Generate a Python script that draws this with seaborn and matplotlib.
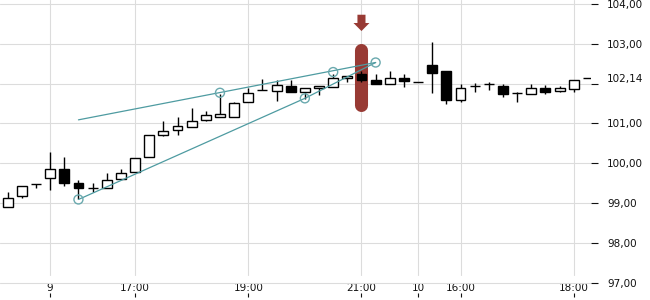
import numpy as np
import pandas as pd
import matplotlib
matplotlib.use("Agg")
import matplotlib.pyplot as plt
from matplotlib.patches import FancyArrowPatch
from matplotlib.transforms import blended_transform_factory
import seaborn as sns

# ---- data (15-minute candles) ----
opens = [98.89, 99.17, 99.47, 99.62, 99.85, 99.51, 99.38, 99.37, 99.60, 99.77,
         100.16, 100.71, 100.83, 100.91, 101.09, 101.17, 101.17, 101.55, 101.83, 101.82,
         101.95, 101.79, 101.90, 101.92, 102.14, 102.23, 102.10, 102.00, 102.15, 102.03,
         102.46, 102.31, 101.59, 101.93, 101.98, 101.93, 101.77, 101.74, 101.89, 101.82,
         101.87, 102.14]
highs = [99.27, 99.42, 99.47, 100.29, 100.16, 99.57, 99.50, 99.75, 99.86, 100.14,
         100.71, 101.05, 101.15, 101.40, 101.30, 101.74, 101.55, 101.89, 102.12, 102.10,
         102.08, 101.90, 101.95, 102.23, 102.20, 102.31, 102.25, 102.31, 102.23, 102.03,
         103.04, 102.31, 101.98, 102.01, 102.04, 101.98, 101.78, 102.00, 101.97, 101.93,
         102.10, 102.14]
lows = [98.89, 99.13, 99.38, 99.34, 99.44, 99.10, 99.27, 99.37, 99.60, 99.77,
        100.16, 100.68, 100.71, 100.91, 101.06, 101.17, 101.17, 101.55, 101.83, 101.57,
        101.80, 101.62, 101.72, 101.92, 102.04, 102.03, 102.00, 102.00, 101.92, 102.03,
        101.77, 101.49, 101.54, 101.80, 101.83, 101.66, 101.54, 101.74, 101.74, 101.79,
        101.78, 102.14]
closes = [99.13, 99.42, 99.47, 99.85, 99.51, 99.39, 99.38, 99.58, 99.76, 100.14,
          100.71, 100.81, 100.94, 101.07, 101.20, 101.23, 101.52, 101.77, 101.83, 101.97,
          101.80, 101.90, 101.95, 102.15, 102.20, 102.10, 102.00, 102.15, 102.07, 102.03,
          102.27, 101.59, 101.89, 101.93, 101.98, 101.74, 101.77, 101.89, 101.80, 101.88,
          102.10, 102.14]

xtick_pos = [3, 9, 17, 25, 29, 32, 40]
xtick_labels = ["9", "17:00", "19:00", "21:00", "10", "16:00", "18:00"]
ytick_vals = [97, 98, 99, 100, 101, 102, 103, 104]
last_price = 102.14

# wedge drawing
upper_x = [5, 26]
upper_y = [101.09, 102.53]
lower_x = [5, 21, 26]
lower_y = [99.09, 101.63, 102.53]
anchor_x = [5, 15, 21, 23, 26]
anchor_y = [99.09, 101.77, 101.63, 102.29, 102.53]

# signal marker
signal_idx = 25
signal_range = [101.31, 103.02]
arrow_range = [103.73, 103.32]

# ---- style ----
sns.set_theme(style="white")
plt.rcParams["font.family"] = ["DejaVu Sans"]

W, H = 650, 300
fig = plt.figure(figsize=(6.5, 3.0), dpi=100)
ax_left, ax_right, ax_bottom, ax_top = 0, 591, 7, 300
ax = fig.add_axes([ax_left / W, ax_bottom / H, (ax_right - ax_left) / W, (ax_top - ax_bottom) / H])

x_lo, x_hi = -0.544, 41.22
y_lo, y_hi = 96.741, 104.10
ax.set_xlim(x_lo, x_hi)
ax.set_ylim(y_lo, y_hi)
ax_h = ax_top - ax_bottom
px_per_unit = ax_h / (y_hi - y_lo)

grid_c = "#dcdcdc"
# grid
ax.set_yticks(ytick_vals)
ax.grid(axis="y", color=grid_c, lw=0.8)
ax.grid(axis="x", visible=False)
vgrid_end_px = 275  # image-y where vertical grid lines stop
for xp in xtick_pos:
    ax.axvline(xp, ymin=(ax_h - vgrid_end_px) / ax_h, ymax=1, color=grid_c, lw=0.8, zorder=0.5)
ax.set_axisbelow(True)

red = "#983a34"
# signal bar (rounded)
inset = 6.5 / px_per_unit
ax.plot([signal_idx, signal_idx], [signal_range[0] + inset, signal_range[1] - inset],
        color=red, lw=9.4, solid_capstyle="round", zorder=1)
arrow = FancyArrowPatch((signal_idx, arrow_range[0]), (signal_idx, arrow_range[1]),
                        arrowstyle="simple,head_length=5.8,head_width=11.5,tail_width=5.8",
                        mutation_scale=1, shrinkA=0, shrinkB=0, color=red, lw=0, zorder=1)
ax.add_patch(arrow)

# candles
n = len(opens)
idx = np.arange(n)
o = np.array(opens); c = np.array(closes)
hi = np.array(highs); lo = np.array(lows)
ax.vlines(idx, lo, hi, color="black", lw=1.0, zorder=2)
up = c > o
bottoms = np.minimum(o, c)
heights = np.abs(c - o)
face = np.where(up, "white", "black")
ax.bar(idx, heights, bottom=bottoms, width=0.7, color=list(face),
       edgecolor="black", linewidth=1.0, zorder=3)

# wedge lines
teal = "#4e9ba1"
sns.lineplot(x=upper_x, y=upper_y, ax=ax, color=teal, lw=0.9, sort=False, zorder=4)
sns.lineplot(x=lower_x, y=lower_y, ax=ax, color=teal, lw=0.9, sort=False, zorder=4)
sns.scatterplot(x=anchor_x, y=anchor_y, ax=ax, s=42, facecolor="none",
                edgecolor="#6aa9ae", linewidth=1.0, zorder=5)

# axes cosmetics
for s in ax.spines.values():
    s.set_visible(False)
ax.yaxis.tick_right()
ylabels = ["" if v == 102 else f"{v:.2f}".replace(".", ",") for v in ytick_vals]
ax.set_yticklabels(ylabels)
ax.set_xticks(xtick_pos)
ax.set_xticklabels(xtick_labels)
ax.tick_params(axis="y", right=True, left=False, labelright=True, labelleft=False,
               length=4.7, width=0.8, pad=6.8, labelsize=7.5, colors="#111111", direction="out")
ax.tick_params(axis="x", bottom=True, top=False, length=2.9, width=0.8, pad=-10.3,
               labelsize=7.5, colors="#111111", direction="out")
ax.set_xlabel("")
ax.set_ylabel("")

trans = blended_transform_factory(ax.transAxes, ax.transData)
ax.annotate(f"{last_price:.2f}".replace(".", ","), xy=(1.0, last_price), xycoords=trans,
            xytext=(11.5, -1.0), textcoords="offset points", ha="left", va="center",
            fontsize=7.5, color="#111111", annotation_clip=False)

fig.savefig("out.png", dpi=100, facecolor="white")
